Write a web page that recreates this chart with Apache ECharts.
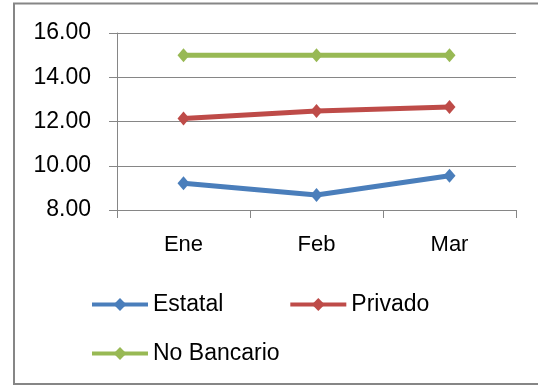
<!DOCTYPE html>
<html>
<head>
    <meta charset="UTF-8">
    <title>Tasas</title>
    <script src="https://cdn.jsdelivr.net/npm/echarts@6/dist/echarts.min.js"></script>
    <style>
        html, body { margin: 0; padding: 0; background: #fff; }
        #chart { width: 538px; height: 385px; }
    </style>
</head>
<body>
<div id="chart"></div>
<script>
    // datos
    var meses = ['Ene', 'Feb', 'Mar'];
    var estatal = [9.21, 8.68, 9.55];
    var privado = [12.14, 12.48, 12.66];
    var noBancario = [15.00, 15.00, 15.00];
    var yMin = 8, yMax = 16, yPaso = 2;

    var fuente = 'Liberation Sans';
    var gris = '#868686';

    var myChart = echarts.init(document.getElementById('chart'));

    function serie(nombre, datos, color) {
        return {
            name: nombre,
            type: 'line',
            data: datos,
            symbol: 'diamond',
            symbolSize: [12, 14],
            itemStyle: { color: color },
            lineStyle: { color: color, width: 5 },
            animation: false
        };
    }

    var leyendaTexto = { fontFamily: fuente, fontSize: 23, color: '#000' };

    var option = {
        animation: false,
        graphic: [{
            type: 'rect',
            shape: { x: 14, y: 3.5, width: 540, height: 380.5 },
            style: { fill: 'none', stroke: gris, lineWidth: 2 },
            silent: true
        }],
        grid: { left: 117, right: 22, top: 33, bottom: 175 },
        legend: [
            {
                data: ['Estatal', 'Privado'],
                left: 90, top: 293, padding: 0,
                itemWidth: 56, itemHeight: 16, itemGap: 65,
                lineStyle: { width: 4 },
                textStyle: leyendaTexto
            },
            {
                data: ['No Bancario'],
                left: 90, top: 342, padding: 0,
                itemWidth: 56, itemHeight: 16,
                lineStyle: { width: 4 },
                textStyle: leyendaTexto
            }
        ],
        xAxis: {
            type: 'category',
            data: meses,
            boundaryGap: true,
            axisLine: { lineStyle: { color: gris, width: 1 } },
            axisTick: { show: true, length: 8, lineStyle: { color: gris } },
            axisLabel: { fontFamily: fuente, fontSize: 22, color: '#000', margin: 24 }
        },
        yAxis: {
            type: 'value',
            min: yMin, max: yMax, interval: yPaso,
            axisLine: { show: true, lineStyle: { color: gris, width: 1 } },
            axisTick: { show: true, length: 8, lineStyle: { color: gris } },
            splitLine: { lineStyle: { color: gris, width: 1 } },
            axisLabel: {
                fontFamily: fuente, fontSize: 23, color: '#000', margin: 26,
                formatter: function (v) { return v.toFixed(2); }
            }
        },
        series: [
            serie('Estatal', estatal, '#4A7EBB'),
            serie('Privado', privado, '#BE4B48'),
            serie('No Bancario', noBancario, '#98B954')
        ]
    };

    if (option && typeof option === "object") {
        myChart.setOption(option, true);
    }
</script>
</body>
</html>
